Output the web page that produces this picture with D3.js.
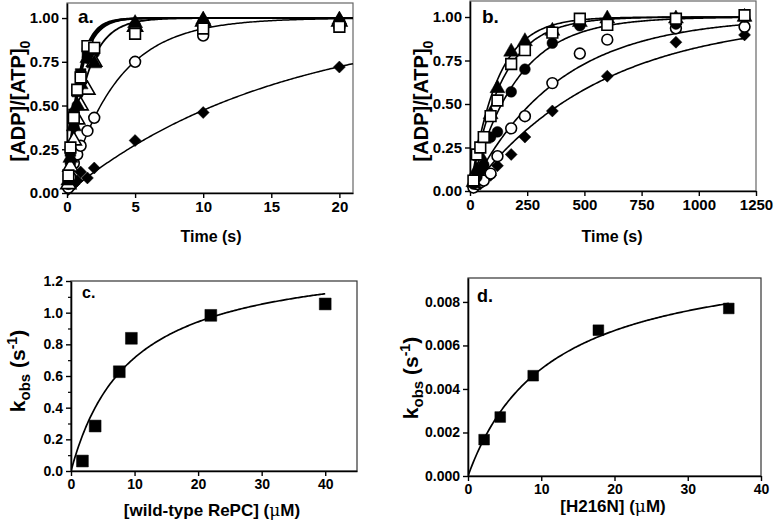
<!DOCTYPE html>
<html><head><meta charset="utf-8">
<script src="https://cdn.jsdelivr.net/npm/d3@7"></script>
<style>
body{margin:0;background:#fff}
svg text{font-family:"Liberation Sans",Arial,Helvetica,sans-serif;font-weight:bold;fill:#000}
</style>
</head><body>
<svg id="chart" width="774" height="528"></svg>
<script>
// ---------- DATA ----------
// Panel a: time (s)
const timeA = [0.1, 0.25, 0.5, 0.75, 1, 1.5, 2, 5, 10, 20];
const aFilledTri  = [0.07, 0.20, 0.38, 0.50, 0.62, 0.77, 0.74, 0.97, 0.99, 0.99];
const aOpenTri    = [0.05, 0.15, 0.30, 0.42, 0.50, 0.59, 0.75, 0.95, 0.98, 0.98];
const aFilledSq   = [0.08, 0.24, 0.45, 0.58, 0.68, 0.80, 0.83, 0.93, 0.95, 0.97];
const aOpenSq     = [0.10, 0.26, 0.43, 0.59, 0.66, 0.84, 0.83, 0.91, 0.94, 0.95];
const aFilledCirc = [0.05, 0.17, 0.38, 0.50, 0.62, 0.77, 0.80, 0.96, 0.98, 0.98];
const aOpenCirc   = [0.03, 0.09, 0.17, 0.22, 0.27, 0.355, 0.43, 0.75, 0.90, 0.95];
const aDiamond    = [0.02, 0.03, 0.05, 0.07, 0.12, 0.086, 0.143, 0.30, 0.46, 0.72];
// fitted first-order rate constants (s^-1) for the curves in panel a
const kFitA = [1.1, 0.75, 1.2, 1.25, 1.15, 0.28, 0.064];

// Panel b: time (s)
const timeB = [15, 30, 45, 60, 90, 120, 180, 240, 360, 480, 600, 900, 1200];
const bFilledTri  = [0.05, 0.12, 0.20, 0.30, 0.44, 0.59, 0.80, 0.86, 0.92, 0.97, 0.99, 0.99, 1.00];
const bOpenSq     = [0.06, 0.21, 0.25, 0.31, 0.43, 0.52, 0.73, 0.81, 0.91, 0.99, 0.955, 0.99, 1.01];
const bFilledCirc = [0.04, 0.08, 0.12, 0.15, 0.31, 0.34, 0.57, 0.70, 0.85, 0.95, 0.97, 0.96, 1.00];
const bOpenCirc   = [0.02, 0.04, 0.05, 0.06, 0.10, 0.20, 0.36, 0.43, 0.62, 0.79, 0.87, 0.935, 0.944];
const bDiamond    = [0.02, 0.03, 0.04, 0.06, 0.09, 0.145, 0.21, 0.31, 0.46, null, 0.66, 0.855, 0.897];
// fitted rate constants (s^-1) for panel b curves
const kFitB = [0.0085, 0.0072, 0.005, 0.00262, 0.00175];

// Panel c: [wild-type RePC] (uM) vs kobs (s^-1)
const concC = [1.8, 3.8, 7.6, 9.5, 22, 40];
const kobsC = [0.063, 0.284, 0.627, 0.838, 0.983, 1.055];
const fitC = {vmax: 1.38, km: 9.3, xmax: 40};

// Panel d: [H216N] (uM) vs kobs (s^-1)
const concD = [2.2, 4.4, 8.9, 17.8, 35.6];
const kobsD = [0.00167, 0.00271, 0.00461, 0.0067, 0.0077];
const fitD = {vmax: 0.01042, km: 11.18, xmax: 35.6};

// tick labels
const ticksAX = [0, 5, 10, 15, 20];
const ticksBX = [0, 250, 500, 750, 1000, 1250];
const ticksABY = [0, 0.25, 0.5, 0.75, 1.0];
const ticksCX = [0, 10, 20, 30, 40];
const ticksCY = [0, 0.2, 0.4, 0.6, 0.8, 1.0, 1.2];
const ticksCYminor = [0.1, 0.3, 0.5, 0.7, 0.9, 1.1];
const ticksDX = [0, 10, 20, 30, 40];
const ticksDY = [0, 0.002, 0.004, 0.006, 0.008];

// ---------- DRAW ----------
const svg = d3.select("#chart");

function panel(cfg) {
  const g = svg.append("g");
  const x = d3.scaleLinear().domain(cfg.xd).range([cfg.l, cfg.r]);
  const y = d3.scaleLinear().domain(cfg.yd).range([cfg.b, cfg.t]);
  g.append("rect").attr("x", cfg.l).attr("y", cfg.t).attr("width", cfg.r - cfg.l).attr("height", cfg.b - cfg.t)
    .attr("fill", "none").attr("stroke", cfg.frame).attr("stroke-width", 1.2);
  const ax = g.append("g").attr("transform", `translate(0,${cfg.b})`)
    .call(d3.axisBottom(x).tickValues(cfg.xt).tickFormat(cfg.xf).tickSize(5).tickSizeOuter(0).tickPadding(3));
  const ay = g.append("g").attr("transform", `translate(${cfg.l},0)`)
    .call(d3.axisLeft(y).tickValues(cfg.yt).tickFormat(cfg.yf).tickSize(5).tickSizeOuter(0).tickPadding(3));
  if (cfg.ytMinor) {
    g.append("g").attr("transform", `translate(${cfg.l},0)`)
      .call(d3.axisLeft(y).tickValues(cfg.ytMinor).tickFormat("").tickSize(3).tickSizeOuter(0))
      .call(s => s.select(".domain").remove())
      .selectAll("line").attr("stroke", "#000").attr("stroke-width", 1.2);
  }
  [ax, ay].forEach(a => {
    a.select(".domain").attr("stroke", "#000").attr("stroke-width", 1.6);
    a.selectAll(".tick line").attr("stroke", "#000").attr("stroke-width", 1.4);
    a.selectAll(".tick text").style("font-size", cfg.fs + "px").style("font-family", '"Liberation Sans",Arial,sans-serif').style("font-weight", "bold").attr("fill", "#000");
  });
  const clipId = "clip" + Math.random().toString(36).slice(2);
  g.append("clipPath").attr("id", clipId).append("rect")
    .attr("x", cfg.l).attr("y", cfg.t - 6).attr("width", cfg.r - cfg.l + 6).attr("height", cfg.b - cfg.t + 6);
  const curves = g.append("g").attr("clip-path", `url(#${clipId})`);
  return {g, x, y, plot: g.append("g"), curves};
}

const symTypes = {tri: d3.symbolTriangle, sq: d3.symbolSquare, circ: d3.symbolCircle, dia: d3.symbolSquare};

function drawMarkers(P, xs, ys, kind, filled, size) {
  const pts = xs.map((v, i) => [v, ys[i]]).filter(d => d[1] !== null);
  const sz = size * (kind === "tri" ? 0.85 : kind === "circ" ? 0.8 : kind === "dia" ? 0.62 : 1);
  P.plot.append("g").selectAll("path").data(pts).join("path")
    .attr("d", d3.symbol().type(symTypes[kind]).size(sz))
    .attr("transform", d => `translate(${P.x(d[0])},${P.y(d[1])})` + (kind === "dia" ? " rotate(45)" : ""))
    .attr("fill", filled ? "#000" : "#fff")
    .attr("stroke", "#000").attr("stroke-width", filled ? 0.5 : 1.6);
}

function drawCurve(P, fn, x0, x1, width) {
  const n = 200;
  const pts = d3.range(n + 1).map(i => { const t = x0 + (x1 - x0) * i / n; return [t, fn(t)]; });
  P.curves.append("path").datum(pts)
    .attr("d", d3.line().x(d => P.x(d[0])).y(d => P.y(d[1])))
    .attr("fill", "none").attr("stroke", "#000").attr("stroke-width", width || 1.6);
}

const fmt2 = d3.format(".2f");

// Panel a
const A = panel({l: 67, r: 353, t: 3, b: 193, xd: [0, 21], yd: [0, 1.086],
  xt: ticksAX, yt: ticksABY, xf: d3.format("d"), yf: fmt2, fs: 15, frame: "#666"});
kFitA.forEach((k, i) => drawCurve(A, t => 1 - Math.exp(-k * t), 0, 21, i < 5 ? 1.8 : 1.5));
const seriesA = [[aDiamond, "dia", true], [aOpenCirc, "circ", false], [aFilledCirc, "circ", true],
  [aFilledSq, "sq", true], [aOpenTri, "tri", false], [aFilledTri, "tri", true], [aOpenSq, "sq", false]];
seriesA.forEach(s => drawMarkers(A, timeA, s[0], s[1], s[2], 115));

// Panel b
const B = panel({l: 470, r: 756, t: 1, b: 191, xd: [0, 1250], yd: [0, 1.092],
  xt: ticksBX, yt: ticksABY, xf: d3.format("d"), yf: fmt2, fs: 15, frame: "#666"});
kFitB.forEach(k => drawCurve(B, t => 1 - Math.exp(-k * t), 0, 1210, 1.6));
const seriesB = [[bDiamond, "dia", true], [bOpenCirc, "circ", false], [bFilledCirc, "circ", true],
  [bFilledTri, "tri", true], [bOpenSq, "sq", false]];
seriesB.forEach(s => drawMarkers(B, timeB, s[0], s[1], s[2], 115));

// Panel c
const C = panel({l: 71, r: 357, t: 281, b: 471, xd: [0, 45], yd: [0, 1.2],
  xt: ticksCX, yt: ticksCY, ytMinor: ticksCYminor, xf: d3.format("d"), yf: d3.format(".1f"), fs: 14, frame: "#333"});
drawCurve(C, c => fitC.vmax * c / (fitC.km + c), 0, fitC.xmax, 1.7);
drawMarkers(C, concC, kobsC, "sq", true, 140);

// Panel d
const D = panel({l: 468, r: 761, t: 278, b: 476, xd: [0, 40], yd: [0, 0.0091],
  xt: ticksDX, yt: ticksDY, xf: d3.format("d"), yf: d3.format(".3f"), fs: 14, frame: "#333"});
drawCurve(D, c => fitD.vmax * c / (fitD.km + c), 0, fitD.xmax, 1.7);
drawMarkers(D, concD, kobsD, "sq", true, 115);

// ---------- TEXT ----------
function label(x, y, txt, size) {
  svg.append("text").attr("x", x).attr("y", y).style("font-size", size + "px").text(txt);
}
label(78, 23, "a.", 19);
label(482, 23, "b.", 19);
label(82, 298, "c.", 16);
label(477, 302, "d.", 18);

function xTitle(cx, y, parts, size) {
  const t = svg.append("text").attr("x", cx).attr("y", y).attr("text-anchor", "middle").style("font-size", size + "px");
  parts.forEach(p => {
    const ts = t.append("tspan").text(p.t);
    if (p.serif) ts.style("font-family", '"DejaVu Serif","Liberation Serif",serif').style("font-weight", "normal");
  });
}
xTitle(211, 242, [{t: "Time (s)"}], 16);
xTitle(612, 242, [{t: "Time (s)"}], 16);
xTitle(212, 516, [{t: "[wild-type RePC] ("}, {t: "\u03bc", serif: true}, {t: "M)"}], 17);
xTitle(613, 512, [{t: "[H216N] ("}, {t: "\u03bc", serif: true}, {t: "M)"}], 17);

function yTitleADP(cx, cy) {
  const t = svg.append("text").attr("transform", `translate(${cx},${cy}) rotate(-90)`)
    .attr("text-anchor", "middle").style("font-size", "20px");
  t.append("tspan").text("[ADP]/[ATP]");
  t.append("tspan").attr("dy", 5).style("font-size", "14px").text("0");
}
yTitleADP(25, 101);
yTitleADP(428, 101);

function yTitleK(cx, cy) {
  const t = svg.append("text").attr("transform", `translate(${cx},${cy}) rotate(-90)`)
    .attr("text-anchor", "middle").style("font-size", "21px");
  t.append("tspan").text("k");
  t.append("tspan").attr("dy", 5).style("font-size", "15px").text("obs");
  t.append("tspan").attr("dy", -5).text(" (s");
  t.append("tspan").attr("dy", -8).style("font-size", "14px").text("-1");
  t.append("tspan").attr("dy", 8).text(")");
}
yTitleK(25, 371);
yTitleK(418, 378);
</script>
</body></html>
